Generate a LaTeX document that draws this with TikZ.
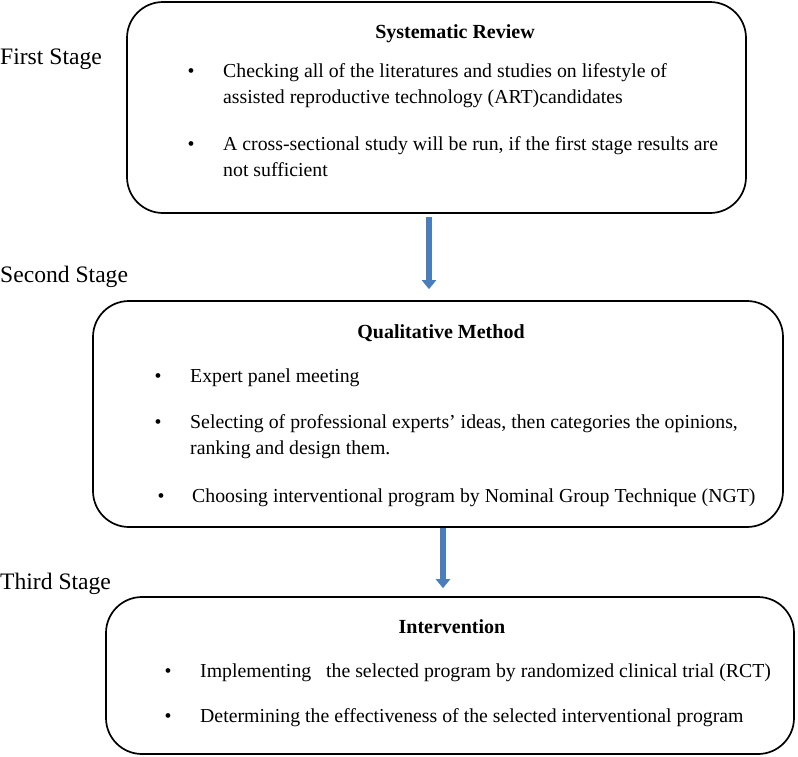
\documentclass[tikz,border=0pt]{standalone}
\usepackage{fontspec}
\setmainfont{Liberation Serif}
\usetikzlibrary{positioning,arrows.meta}
\definecolor{flowblue}{RGB}{74,126,187}
\begin{document}
\begin{tikzpicture}[x=1pt,y=-1pt,font=\fontsize{19.8}{24}\selectfont]
	% --- Lienzo: 798 x 756, y hacia abajo ---
	\useasboundingbox (0,0) rectangle (798,756);
	\tikzset{stagebox/.style={draw, line width=1.7pt, rounded corners=36pt, inner sep=0pt},
		line/.style={anchor=base west, inner sep=0pt},
		dot/.style={anchor=base, inner sep=0pt},
		boxtitle/.style={anchor=base, inner sep=0pt, font=\fontsize{20}{24}\selectfont\bfseries},
		stagelabel/.style={anchor=base west, inner sep=0pt, font=\fontsize{23.6}{28}\selectfont},
		flow/.style={draw=flowblue, line width=5.5pt, -{Triangle[width=14pt,length=9pt]}}}

	% --- Cajas de cada etapa ---
	\node[stagebox, minimum width=619pt, minimum height=211pt] (review) at (436.5,107.5) {};
	\node[stagebox, minimum width=690pt, minimum height=226pt] (method) at (438,414) {};
	\node[stagebox, minimum width=688pt, minimum height=157pt] (interv) at (450,675.5) {};

	% --- Etiquetas de etapa ---
	\node[stagelabel] (st1) at (0,64) {First Stage};
	\node[stagelabel] (st2) at (0,282) {Second Stage};
	\node[stagelabel] (st3) at (0,589) {Third Stage};

	% --- Titulos ---
	\node[boxtitle] (t1) at (455,38) {Systematic Review};
	\node[boxtitle] (t2) at (441,338) {Qualitative Method};
	\node[boxtitle] (t3) at (452,633) {Intervention};

	% --- Vinetas ---
	\foreach \x/\y [count=\i] in {191/77, 191/150, 158/382, 158/428, 161/502, 168/677, 168/722}
		\node[dot] (b\i) at (\x,\y) {\textbullet};

	% --- Lineas de texto ---
	\foreach \x/\y/\txt [count=\i] in {%
		223/77/{Checking all of the literatures and studies on lifestyle of},
		223/103/{assisted reproductive technology (ART)candidates},
		223/150/{A cross-sectional study will be run, if the first stage results are},
		223/176/{not sufficient},
		190/382/{Expert panel meeting},
		190/428/{Selecting of professional experts’ ideas, then categories the opinions,},
		190/454/{ranking and design them.},
		192/502/{Choosing interventional program by Nominal Group Technique (NGT)},
		200/677/{Implementing\ \ \ the selected program by randomized clinical trial (RCT)},
		200/722/{Determining the effectiveness of the selected interventional program}}
		\node[line] (l\i) at (\x,\y) {\txt};

	% --- Flechas entre etapas ---
	\coordinate (a1) at (429,217);
	\coordinate (a2) at (443,528);
	\draw[flow, shorten >=11pt] (a1) -- (a1 |- method.north);
	\draw[flow, shorten >=8pt] (a2) -- (a2 |- interv.north);
\end{tikzpicture}
\end{document}
